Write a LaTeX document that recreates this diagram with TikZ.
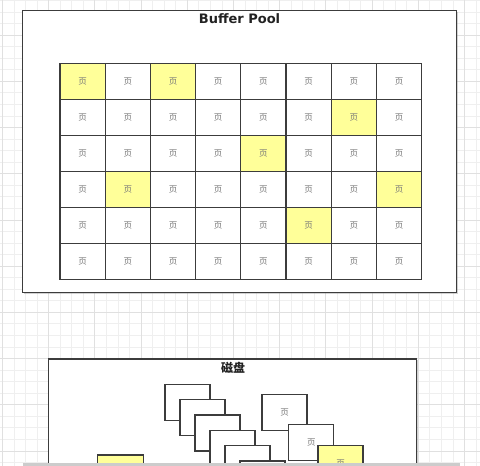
\documentclass[tikz,border=0pt]{standalone}
\usepackage{fontspec}
\setmainfont{DejaVu Sans}
\newfontfamily\cjk{Noto Sans CJK SC}
\usetikzlibrary{positioning,shadows}

\begin{document}
\begin{tikzpicture}[x=1pt,y=-1pt,
  frame/.style={draw=bp_line,line width=1.6pt,fill=white,inner sep=0pt,
    drop shadow={shadow xshift=1.2pt,shadow yshift=-1.2pt,opacity=0.35}},
  title/.style={inner sep=0pt,text=bp_title},
  page/.style={draw=bp_line,line width=1.3pt,fill=white,inner sep=0pt,
    minimum width=45.2pt,minimum height=36pt,text=bp_text,
    font=\cjk\fontsize{8.5}{9}\selectfont},
  stacked/.style={page,minimum width=45pt,text height=10pt,text depth=0pt},
  hot/.style={fill=bp_yellow}]
% ------------------------------------------------ colors
\definecolor{bp_line}{RGB}{60,60,60}     %#3C3C3C
\definecolor{bp_title}{RGB}{34,34,34}    %#222222
\definecolor{bp_text}{RGB}{120,120,120}  %#787878
\definecolor{bp_yellow}{RGB}{255,255,153} %#FFFF99
\definecolor{bp_minor}{RGB}{239,239,239} %#EFEFEF
\definecolor{bp_major}{RGB}{224,224,224} %#E0E0E0
\definecolor{bp_bar}{RGB}{204,204,204}   %#CCCCCC

\useasboundingbox (0,0) rectangle (480,466);
\fill[white] (0,0) rectangle (480,466);

% ------------------------------------------------ canvas grid
\foreach \k in {0,...,41} {
  \draw[bp_minor,line width=0.5pt] ({2.3+11.55*\k},0) -- ({2.3+11.55*\k},466);
  \draw[bp_minor,line width=0.5pt] (0,{0.3+11.55*\k}) -- (480,{0.3+11.55*\k});
}
\foreach \k in {0,...,10} {
  \draw[bp_major,line width=0.5pt] ({2.3+46.2*\k},0) -- ({2.3+46.2*\k},466);
  \draw[bp_major,line width=0.5pt] (0,{35.1+46.2*\k}) -- (480,{35.1+46.2*\k});
}

% ------------------------------------------------ Buffer Pool
\node[frame,minimum width=434pt,minimum height=282pt] (pool) at (239.5,151.5) {};
\node[title,font=\bfseries\fontsize{13}{13}\selectfont] (pool-title) at (239.5,19) {Buffer Pool};

\foreach \r in {0,...,5} {
  \foreach \c in {0,...,7} {
    \pgfmathtruncatemacro\ishot{(\r==0&&\c==0)||(\r==0&&\c==2)||(\r==1&&\c==6)||(\r==2&&\c==4)||(\r==3&&\c==1)||(\r==3&&\c==7)||(\r==4&&\c==5)}
    \ifnum\ishot=1 \def\cellfill{bp_yellow}\else\def\cellfill{white}\fi
    \node[page,fill=\cellfill] (cell-\r-\c) at ({82.6+45.2*\c},{81.3+36*\r}) {页};
  }
}

% ------------------------------------------------ disk
\node[frame,minimum width=368pt,minimum height=141pt] (disk) at (232.5,429.5) {};
\node[title,font=\cjk\bfseries\fontsize{12}{12}\selectfont] (disk-title) at (233,367.5) {磁盘};

\foreach \i in {0,...,5}
  \node[stacked] (stack-\i) at ({187.5+15*\i},{402.5+15.3*\i}) {页};

\node[page,minimum width=45pt] (page-a) at (284.5,412.5) {页};
\node[page,minimum width=45pt] (page-b) at (311.3,442.5) {页};
\node[page,hot,minimum width=45pt] (page-c) at (340.5,463.8) {页};
\node[page,hot,minimum width=46pt] (page-d) at (120.5,473) {页};

% ------------------------------------------------ bottom bar
\fill[bp_bar] (23,462.7) rectangle (460,466);

\end{tikzpicture}
\end{document}
